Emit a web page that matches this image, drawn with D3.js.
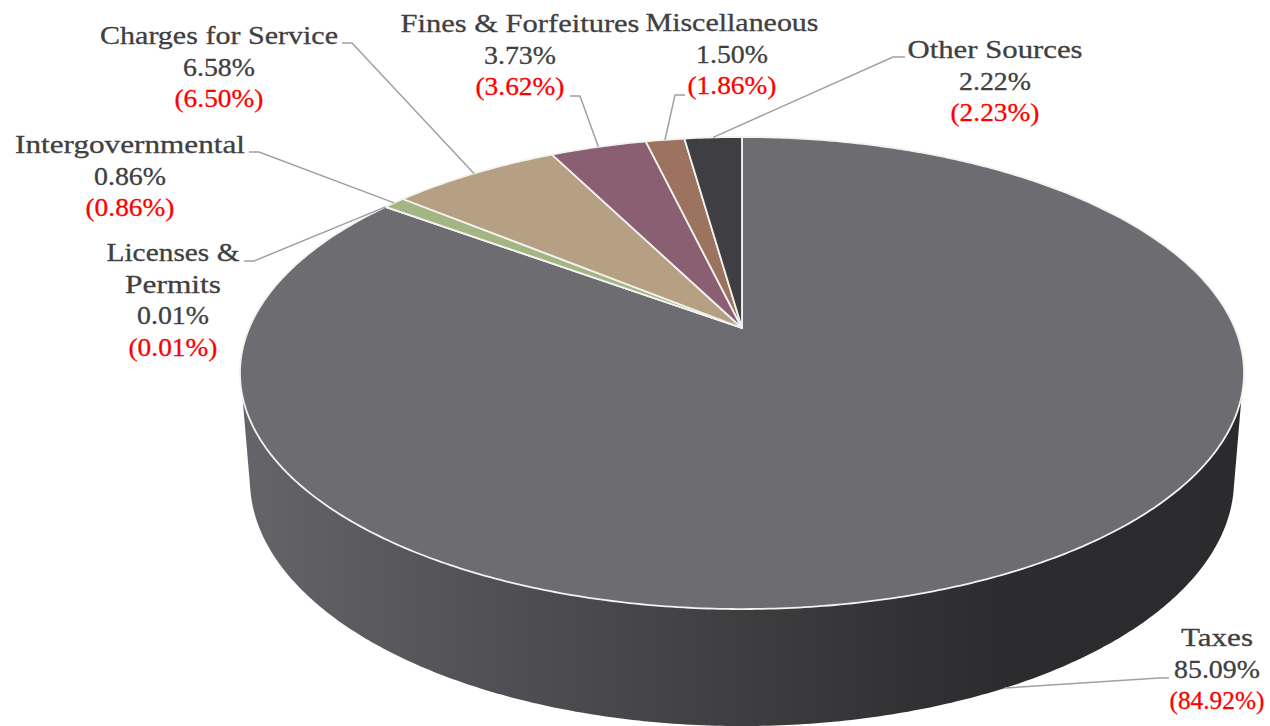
<!DOCTYPE html>
<html>
<head>
<meta charset="utf-8">
<script src="https://cdn.jsdelivr.net/npm/d3@7"></script>
<style>
  html, body { margin: 0; padding: 0; background: #fff; }
  svg { display: block; }
  text { font-family: "Liberation Serif", serif; font-size: 26px; text-anchor: middle; stroke-width: 0.3px; }
</style>
</head>
<body>
<div id="chart"></div>
<script>
'use strict';

const categories = ['Taxes', 'Licenses &|Permits', 'Intergovernmental', 'Charges for Service', 'Fines & Forfeitures', 'Miscellaneous', 'Other Sources'];
const currentShare = [85.09, 0.01, 0.86, 6.58, 3.73, 1.50, 2.22];
const priorShare = [84.92, 0.01, 0.86, 6.50, 3.62, 1.86, 2.23];
const sliceColors = ['#6d6c71', '#8f9f73', '#a3b583', '#b5a084', '#8a5f72', '#9c735e', '#3f3e43'];

// label centre x, first baseline, leader start (x, y) and elbow x
const labelX = [1217, 173, 130, 219, 520, 732, 995];
const labelY = [646, 261, 153, 44, 32, 31, 58];
const leaderStart = [[1169, 678], [244, 261], [249, 152], [342, 43], [570, 96], [685, 95], [905, 57]];
const leaderElbow = [1159, 254, 259, 352, 580, 675, 893];
// drawn width of each label row, the reference face is wider than ours
const rowWidths = [[72, 86, 95], [133, 96, 72, 89], [230, 72, 89], [238, 72, 89], [239, 72, 89], [173, 72, 89], [175, 72, 89]];

const width = 1270;
const height = 726;
const lineGap = 31.5;

const svg = d3.select('#chart').append('svg')
  .attr('width', width)
  .attr('height', height);

// the pie is a flat disc seen in perspective, so circle points go through a homography
const persp = -0.1907;
const topPlane = { cx: 742, k: 492.8, a: 164.9, b: 328 };
const bottomPlane = { cx: 742, k: 483, a: 154.5, b: 433.1 };

function project(plane, angle, r) {
  const u = r * Math.sin(angle);
  const v = -r * Math.cos(angle);
  const w = 1 + persp * v;
  return [plane.cx + plane.k * u / w, (plane.a * v + plane.b) / w];
}

function rim(plane, start, end) {
  const steps = Math.max(2, Math.ceil((end - start) / 0.01));
  return d3.range(steps + 1).map(i => project(plane, start + (end - start) * i / steps, 1));
}

const slices = d3.pie().sort(null).value(d => d)(currentShare);
const line = d3.line();

const defs = svg.append('defs');
const wallGradient = defs.append('linearGradient')
  .attr('id', 'wall')
  .attr('gradientUnits', 'userSpaceOnUse')
  .attr('x1', 240).attr('x2', 1244).attr('y1', 0).attr('y2', 0);
[[0, '#656469'], [0.26, '#504f53'], [0.5, '#3e3d40'], [0.66, '#323134'], [0.76, '#2c2c2e'], [1, '#2b2b2d']]
  .forEach(s => wallGradient.append('stop').attr('offset', s[0]).attr('stop-color', s[1]));

// side wall: hull of the near part of the top rim and the whole bottom rim
const topRim = rim(topPlane, 0, 2 * Math.PI).filter(p => p[1] >= 395);
const bottomRim = rim(bottomPlane, 0, 2 * Math.PI);
svg.append('path')
  .attr('d', line(d3.polygonHull(topRim.concat(bottomRim))) + 'Z')
  .attr('fill', 'url(#wall)');

svg.selectAll('path.slice')
  .data(slices)
  .enter().append('path')
  .attr('class', 'slice')
  .attr('d', d => line([project(topPlane, 0, 0)].concat(rim(topPlane, d.startAngle, d.endAngle))) + 'Z')
  .attr('fill', (d, i) => sliceColors[i])
  .attr('stroke', '#f4f2f0')
  .attr('stroke-width', 1.8)
  .attr('stroke-linejoin', 'round');

// leader lines end on the rim at each slice's mid angle, Taxes on the bottom rim
svg.selectAll('path.leader')
  .data(slices)
  .enter().append('path')
  .attr('class', 'leader')
  .attr('d', (d, i) => {
    const mid = (d.startAngle + d.endAngle) / 2;
    const end = project(i === 0 ? bottomPlane : topPlane, mid, 1);
    return line([leaderStart[i], [leaderElbow[i], leaderStart[i][1]], end]);
  })
  .attr('fill', 'none')
  .attr('stroke', '#a0a0a0')
  .attr('stroke-width', 1.5);

const labels = svg.selectAll('g.label')
  .data(categories)
  .enter().append('g')
  .attr('class', 'label')
  .attr('transform', (d, i) => `translate(${labelX[i]},${labelY[i]})`);

labels.each(function (name, i) {
  const rows = name.split('|').map(t => ({ text: t, color: '#404040' }));
  rows.push({ text: `${currentShare[i].toFixed(2)}%`, color: '#404040' });
  rows.push({ text: `(${priorShare[i].toFixed(2)}%)`, color: '#ff0000' });
  d3.select(this).selectAll('text')
    .data(rows)
    .enter().append('text')
    .attr('y', (r, j) => j * lineGap)
    .attr('fill', r => r.color)
    .attr('stroke', r => r.color)
    .attr('textLength', (r, j) => rowWidths[i][j])
    .attr('lengthAdjust', 'spacingAndGlyphs')
    .text(r => r.text);
});
</script>
</body>
</html>
